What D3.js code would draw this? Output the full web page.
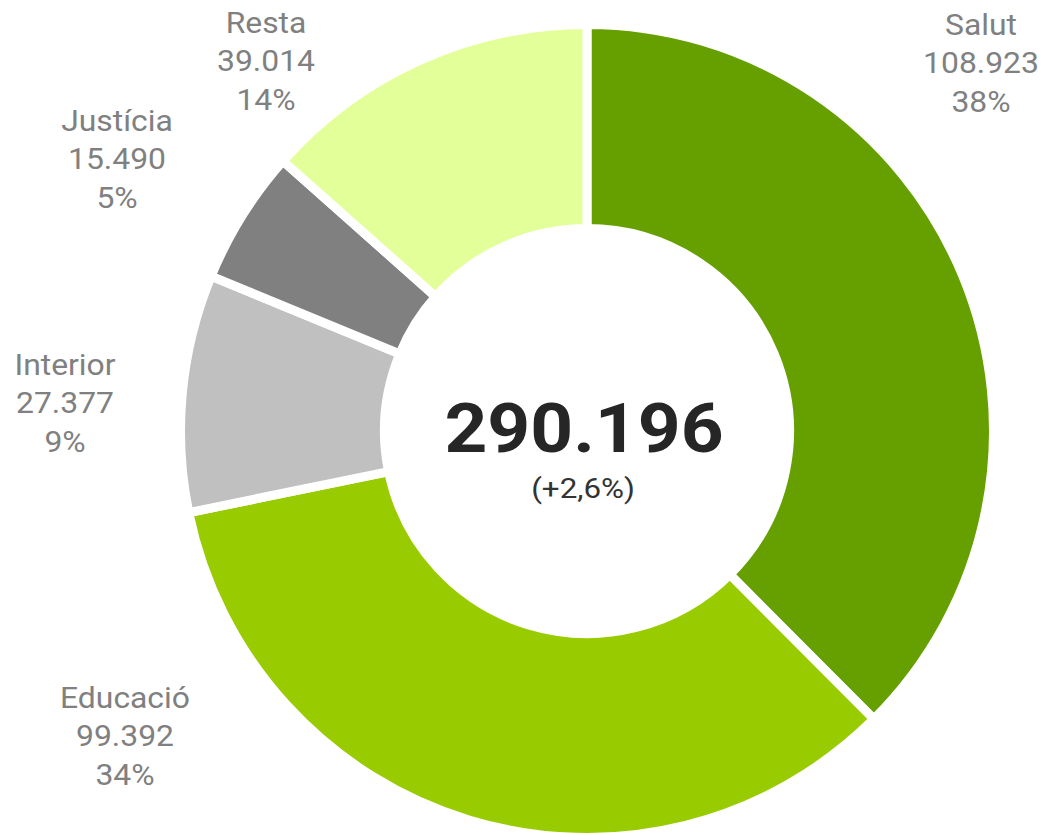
<!DOCTYPE html>
<html>
<head>
<meta charset="utf-8">
<script src="https://cdn.jsdelivr.net/npm/d3@7"></script>
<style>
  html, body { margin: 0; padding: 0; background: #fff; }
  svg { display: block; font-family: Roboto, "Noto Sans", sans-serif; }
</style>
</head>
<body>
<svg id="chart" width="1045" height="833"></svg>
<script>
// Budget by department (thousands), drawn clockwise from 12 o'clock
const categories = ["Salut", "Educació", "Interior", "Justícia", "Resta"];
const values = [108923, 99392, 27377, 15490, 39014];
const shares = ["38%", "34%", "9%", "5%", "14%"];
const colors = ["#66a000", "#99cc00", "#c0c0c0", "#808080", "#e3ff99"];
const totalValue = 290196;
const totalChange = "(+2,6%)";

// Label placement (x, first baseline) for each department
const labelSpots = [[981, 35], [125, 708], [65, 375], [117, 131], [266, 33]];

const W = 1045, H = 833;
const cx = 587, cy = 431;
const gap = 9;
const outerR = 402 + gap / 2;
const innerR = 207 - gap / 2;

const ca = d3.formatLocale({ decimal: ",", thousands: ".", grouping: [3], currency: ["", " €"] });
const fmt = ca.format(",d");

const svg = d3.select("#chart");
const g = svg.append("g").attr("transform", `translate(${cx},${cy})`);

const rows = categories.map((c, i) => ({ name: c, value: values[i], share: shares[i], color: colors[i] }));

const pie = d3.pie().value(d => d.value).sort(null);
const arc = d3.arc().innerRadius(innerR).outerRadius(outerR);

g.selectAll("path.slice")
  .data(pie(rows))
  .join("path")
  .attr("class", "slice")
  .attr("d", arc)
  .attr("fill", d => d.data.color)
  .attr("stroke", "#fff")
  .attr("stroke-width", gap)
  .attr("stroke-linejoin", "miter");

// Department labels (slightly wide type)
const lineH = 38.5;
const labelStretch = 1.08;
svg.append("g")
  .selectAll("text")
  .data(rows)
  .join("text")
  .attr("text-anchor", "middle")
  .attr("fill", "#808080")
  .attr("font-size", 29.5)
  .attr("transform", (d, i) => `translate(${labelSpots[i][0]},${labelSpots[i][1]}) scale(${labelStretch},1)`)
  .each(function (d) {
    const t = d3.select(this);
    [d.name, fmt(d.value), d.share].forEach((s, k) => {
      t.append("tspan").attr("x", 0).attr("y", k * lineH).text(s);
    });
  });

// Total in the middle
g.append("text")
  .attr("text-anchor", "middle")
  .attr("transform", `translate(-3,${452 - cy}) scale(1.1,1)`)
  .attr("font-size", 68)
  .attr("font-weight", 700)
  .attr("fill", "#262626")
  .text(fmt(totalValue));

g.append("text")
  .attr("text-anchor", "middle")
  .attr("transform", `translate(-4,${498 - cy}) scale(1.1,1)`)
  .attr("font-size", 28.5)
  .attr("fill", "#333")
  .text(totalChange);
</script>
</body>
</html>
